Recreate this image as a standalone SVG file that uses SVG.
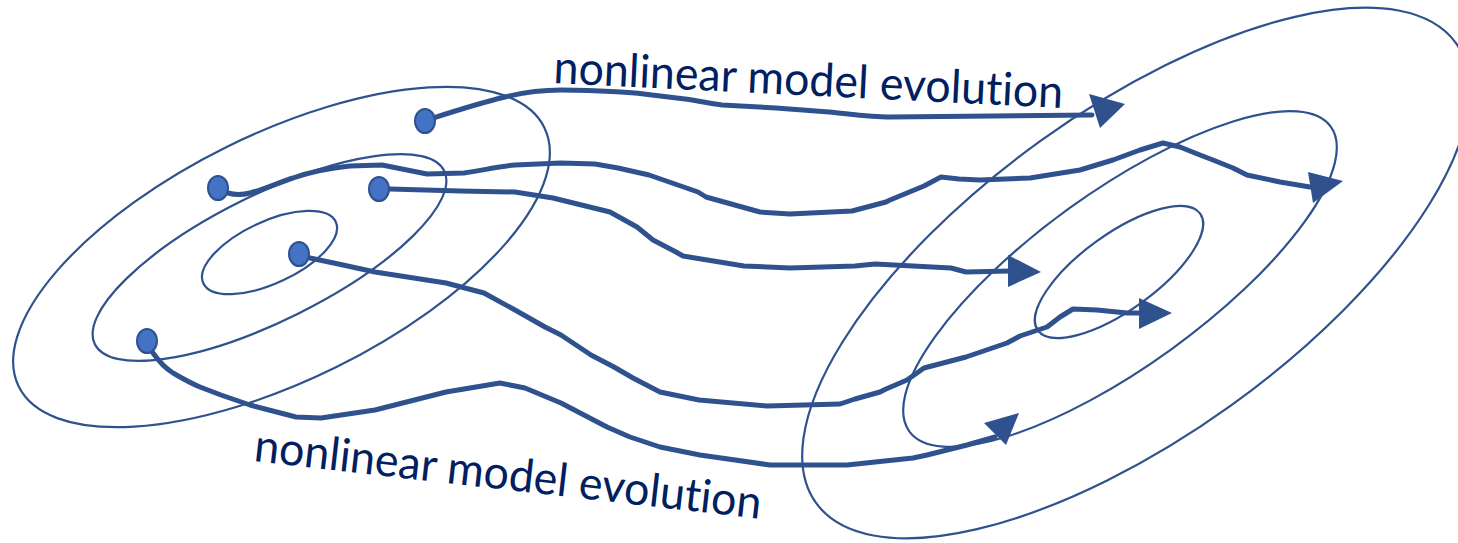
<svg xmlns="http://www.w3.org/2000/svg" width="1458" height="543" viewBox="0 0 1458 543">
  <style>
    .contour { fill: none; stroke: #2F528F; stroke-width: 2.2; }
    .traj { fill: none; stroke: #2F528F; stroke-width: 5; stroke-linejoin: round; stroke-linecap: round; }
    .head { fill: #2F528F; stroke: none; }
    .dot { fill: #4472C4; stroke: #2F528F; stroke-width: 2; }
    .label { font-family: Lato, "Open Sans", "Liberation Sans", sans-serif; font-size: 46px; fill: #002060; font-variant-ligatures: none; font-feature-settings: "liga" 0, "clig" 0; }
  </style>
  <rect width="1458" height="543" fill="#ffffff"/>

  <g id="left-contours">
    <ellipse class="contour" cx="281.5" cy="257" rx="293" ry="123" transform="rotate(-26.25 281.5 257)"/>
    <ellipse class="contour" cx="269.5" cy="257.5" rx="195" ry="63" transform="rotate(-26.4 269.5 257.5)"/>
    <ellipse class="contour" cx="269.5" cy="252.5" rx="73" ry="31" transform="rotate(-24.9 269.5 252.5)"/>
  </g>

  <g id="right-contours">
    <ellipse class="contour" cx="1136" cy="273" rx="394" ry="163" transform="rotate(-35.7 1136 273)"/>
    <ellipse class="contour" cx="1120" cy="279" rx="260" ry="87" transform="rotate(-35.85 1120 279)"/>
    <ellipse class="contour" cx="1119" cy="272" rx="100" ry="38" transform="rotate(-35.75 1119 272)"/>
  </g>

  <g id="connectors">
    <path class="traj" d="M433,118 C455,111 480,103 505,97 C525,92 545,90 561,90 C600,90 640,93 652,95 L685,99 C700,101 712,104 722,105 L776,108 L829,112 C850,114 870,117 890,117 L1092,115"/>
    <polygon class="head" points="1089,94 1125,104 1100,128"/>

    <path class="traj" d="M228,193 C235,195 242,195 250,193 C265,189 280,182 293,178 C310,172 330,168 350,166 L382,165 L427,174 L464,173 C480,171 500,166 515,165 L561,163 L595,164 L618,168 L649,175 L698,192 L706,197 L760,212 L790,214 L852,211 L886,202 L890,200 L924,186 L941,177 L959,179 L980,180 L1030,178 L1080,170 L1113,160 L1140,150 L1163,143 L1180,147 L1200,155 L1213,160 L1233,168 L1247,175 L1280,182 L1310,187"/>
    <polygon class="head" points="1308,172 1343,181 1313,203"/>

    <path class="traj" d="M390,189 L460,191 L515,192 L553,198 L610,212 L637,227 L653,240 L676,252 L683,256 L744,266 L790,268 L855,266 L875,264 L951,268 L966,272 L1010,271"/>
    <polygon class="head" points="1008,255 1041,272 1008,287"/>

    <path class="traj" d="M310,258 L343,265 L375,272 L446,283 L484,293 L515,310 L545,327 L561,335 L591,355 L614,367 L633,378 L660,392 L699,400 L767,406 L840,404 L855,399 L880,392 L886,389 L907,380 L924,368 L966,357 L1007,343 L1020,336 L1047,327 L1060,317 L1073,309 L1097,310 L1127,313 L1141,313"/>
    <polygon class="head" points="1139,298 1172,313 1139,329"/>

    <path class="traj" d="M153,353 C158,360 165,368 173,373 C180,377 190,383 200,387 L221,395 L250,405 L296,417 L321,418 L375,410 L446,392 L500,383 L525,388 L561,403 L607,427 L630,437 L660,447 L700,455 L770,465 L847,465 L913,458 L927,455 L947,450 L967,445 L995,437"/>
    <polygon class="head" points="984,423 1019,413 1006,445"/>
  </g>

  <g id="start-points">
    <ellipse id="p1" class="dot" cx="425" cy="121" rx="10" ry="12"/>
    <ellipse id="p2" class="dot" cx="218" cy="188" rx="10" ry="12"/>
    <ellipse id="p3" class="dot" cx="379" cy="189" rx="10" ry="12"/>
    <ellipse id="p4" class="dot" cx="299" cy="254" rx="10" ry="12"/>
    <ellipse id="p5" class="dot" cx="147" cy="341" rx="10" ry="12"/>
  </g>

  <g id="labels">
    <text id="label-top" class="label" x="553" y="83" textLength="510" lengthAdjust="spacingAndGlyphs" transform="rotate(2.8 553 83)">nonlinear model evolution</text>
    <text id="label-bottom" class="label" x="253" y="461" textLength="510" lengthAdjust="spacingAndGlyphs" transform="rotate(6.5 253 461)">nonlinear model evolution</text>
  </g>
</svg>
